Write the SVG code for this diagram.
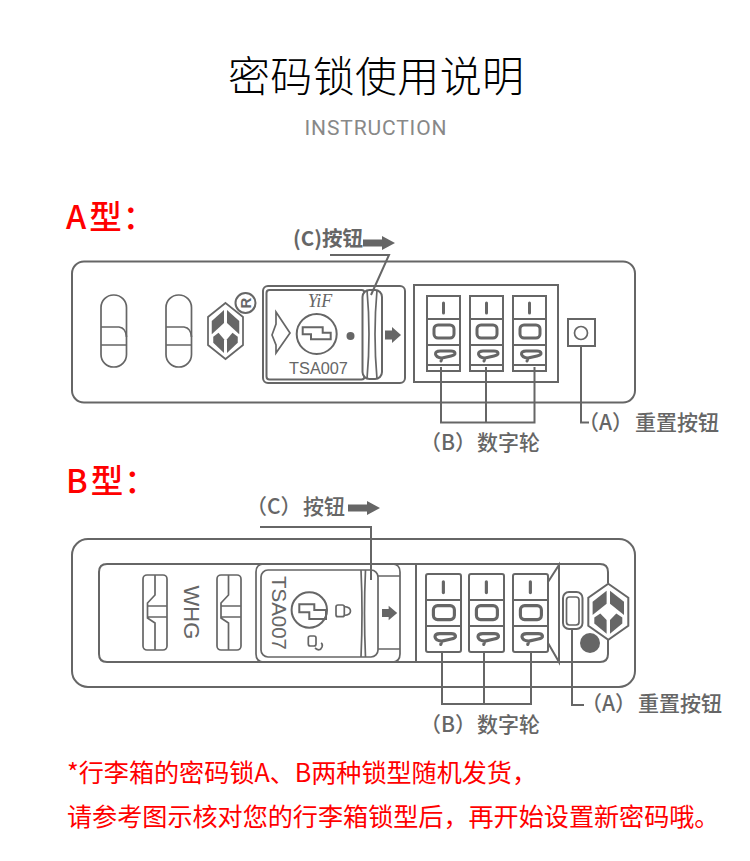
<svg xmlns="http://www.w3.org/2000/svg" width="750" height="861" viewBox="0 0 750 861">
<style>
.l{fill:none;stroke:#666;stroke-width:2}
.t{fill:none;stroke:#666;stroke-width:1.700}
.w{fill:#fff;stroke:#666;stroke-width:2}
.f{fill:#666;stroke:none}
.d{fill:none;stroke:#666;stroke-width:3;stroke-linejoin:round;stroke-linecap:round}
.cn{font-family:"Noto Sans CJK SC","Liberation Sans",sans-serif}
.lab{font-size:21px;font-weight:500;fill:#666;font-family:"Noto Sans CJK SC","Liberation Sans",sans-serif}
.red{fill:#f00;font-size:25.100px;font-family:"Noto Sans CJK SC","Liberation Sans",sans-serif}
.big{fill:#f00;font-size:32.500px;font-weight:500;font-family:"Noto Sans CJK SC","Liberation Sans",sans-serif}
.ar{font-family:"Liberation Sans",Arial,sans-serif;fill:#666}
</style>
<defs>
<g id="digits">
<path class="d" d="M17.500 10V20"/>
<rect class="d" x="8" y="32" width="20" height="13" rx="4"/>
<path class="d" d="M15 68L16 65L25 63Q29.500 62 29 60Q28.500 58 25 58H14Q9.500 58 9.500 61Q10 64.500 16 65"/>
</g>
<g id="logo">
<path class="w" d="M0-28L20-14V14L0 28L-20 14V-14Z"/>
<path class="f" d="M-1.700-21V-8L-15.700 3.300V-10Z"/>
<path class="f" d="M1.700-21V-8L15.700 3.300V-10Z"/>
<path class="f" d="M-14 5.700L-8 1.700L-1.700 8.300V22L-14 11.700Z"/>
<path class="f" d="M14 5.700L8 1.700L1.700 8.300V22L14 11.700Z"/>
</g>
<path id="arr" class="f" d="M0-3.500H19V-7L32 0L19 7V3.500H0Z"/>
<path id="arr2" class="f" d="M0-4.500H7V-8L16 0L7 8V4.500H0Z"/>
</defs>
<rect width="750" height="861" fill="#fff"/>

<g id="title">
<text class="cn" x="376" y="92" font-size="42" font-weight="300" text-anchor="middle" fill="#000" textLength="296">密码锁使用说明</text>
<text x="375.500" y="135" font-family="Roboto,'Liberation Sans',sans-serif" font-size="21" text-anchor="middle" fill="#888" textLength="142">INSTRUCTION</text>
</g>

<g id="heading-a"><text class="big" x="66" y="229">A<tspan dx="3">型</tspan><tspan dx="1">：</tspan></text></g>
<g id="heading-b"><text class="big" x="66" y="493">B<tspan dx="3">型</tspan><tspan dx="1">：</tspan></text></g>

<g id="lock-a">
<rect class="l" x="72" y="261.500" width="563" height="141" rx="12"/>
<g id="a-sliders">
<rect class="t" x="101" y="295" width="25.500" height="72" rx="12.500"/>
<path class="t" d="M101 327H119Q126 328 126.500 337M101 345H126.500"/>
<rect class="t" x="166" y="295" width="25.500" height="72" rx="12.500"/>
<path class="t" d="M166 327H184Q191 328 191.500 337M166 345H191.500"/>
</g>
<g id="a-logo">
<use href="#logo" transform="translate(225.500 331) scale(.875 1)"/>
<circle class="l" cx="245.500" cy="303" r="10"/>
<text class="ar" x="245.500" y="308.500" font-size="15" font-weight="bold" text-anchor="middle" transform="rotate(-90 245.500 303)">R</text>
</g>
<g id="a-panel">
<rect class="l" x="263" y="286" width="142" height="97" rx="5"/>
<rect class="l" x="266.500" y="290" width="98" height="89.500" rx="3"/>
<path class="t" d="M276 312L290 333L276 353V345L272 335L276 324Z"/>
<text x="320" y="307" font-family="'Liberation Serif',serif" font-style="italic" font-size="18" text-anchor="middle" fill="#666">YiF</text>
<circle class="l" cx="316.700" cy="334" r="20"/>
<path class="l" d="M302.700 327.300H322.700V332.700H330.700V339.300H311V334.300H302.700Z"/>
<circle class="f" cx="350.500" cy="336" r="4"/>
<text class="ar" x="318.500" y="374" font-size="16.300" text-anchor="middle">TSA007</text>
<rect class="w" x="362.500" y="290" width="19.500" height="89" rx="7"/>
<path class="t" d="M367 290Q371 334 367 379M377 290Q373 334 377 379"/>
<use href="#arr2" transform="translate(385 335)"/>
</g>
<g id="a-wheels">
<rect class="l" x="414" y="285" width="144" height="97"/>
<g id="a-wheel-1"><rect class="l" x="427" y="296" width="33" height="75"/><path class="l" d="M427 319H460M427 345H460M427 365H460"/><use href="#digits" transform="translate(426 293)"/></g>
<g id="a-wheel-2"><rect class="l" x="470" y="296" width="33" height="75"/><path class="l" d="M470 319H503M470 345H503M470 365H503"/><use href="#digits" transform="translate(469 293)"/></g>
<g id="a-wheel-3"><rect class="l" x="513" y="296" width="33" height="75"/><path class="l" d="M513 319H546M513 345H546M513 365H546"/><use href="#digits" transform="translate(512 293)"/></g>
</g>
<g id="a-reset">
<rect class="l" x="568" y="319" width="27" height="27"/>
<circle class="t" cx="581" cy="333" r="6.500"/>
</g>
</g>

<g id="lock-b">
<rect class="l" x="72" y="539" width="563" height="148" rx="16"/>
<path class="l" d="M608 583V572Q608 564 600 564H107Q99 564 99 572V654Q99 662 107 662H600Q608 662 608 654V640"/>
<g id="b-sliders">
<rect class="t" x="143" y="575" width="24" height="75" rx="4"/>
<path class="t" d="M155 575V595L147.500 603V618L155 623V650M147.500 606H167M147.500 617H167"/>
<rect class="t" x="217" y="575" width="24" height="75" rx="4"/>
<path class="t" d="M228.500 575V595L221 603V618L228.500 623V650M221 606H241M221 617H241"/>
<text class="ar" x="191.500" y="620.500" font-size="22" text-anchor="middle" transform="rotate(90 191.500 612.500)">WHG</text>
</g>
<g id="b-panel">
<path class="t" d="M392 564Q400 564 400 572V654Q400 662 392 662H264Q256 662 256 654V572Q256 564 264 564Z"/>
<path class="t" d="M378 576H400M378 649H400"/>
<rect class="w" x="261" y="570" width="117" height="87" rx="7" style="stroke-width:1.700"/>
<path class="t" d="M361 570Q363 613 361 657M365.500 570Q363.500 613 365.500 657"/>
<text class="ar" x="279" y="620.500" font-size="20.500" text-anchor="middle" transform="rotate(90 279 613)">TSA007</text>
<circle class="l" cx="309.300" cy="610" r="17.700"/>
<path class="l" d="M299.300 604.300H314.300V610H326V619H309.300V612.300H299.300Z"/>
<rect class="t" x="336" y="605" width="8.300" height="11.700" rx="2"/>
<path class="t" d="M344 606.500Q350.500 607 350.500 611Q350.500 615 344 615.500"/>
<rect class="t" x="308.300" y="636" width="7.700" height="10" rx="2"/>
<path class="t" d="M315 648Q320 652 322 647Q323 644 321 643"/>
<use href="#arr2" transform="translate(382 613) scale(.95 .9)"/>
</g>
<path class="l" d="M416 564V662"/>
<g id="b-wheels">
<g id="b-wheel-1"><rect class="l" x="426" y="574" width="35" height="78" rx="2"/><path class="l" d="M426 600H461M426 626H461"/><use href="#digits" transform="translate(425 571) scale(1.050 1.080)"/></g>
<g id="b-wheel-2"><rect class="l" x="469" y="574" width="35" height="78" rx="2"/><path class="l" d="M469 600H504M469 626H504"/><use href="#digits" transform="translate(468 571) scale(1.050 1.080)"/></g>
<g id="b-wheel-3"><rect class="l" x="513" y="574" width="35" height="78" rx="2"/><path class="l" d="M513 600H548M513 626H548"/><use href="#digits" transform="translate(512 571) scale(1.050 1.080)"/></g>
<path class="l" d="M548 582L559 565V662L548 643"/>
</g>
<g id="b-reset">
<rect class="l" x="563" y="592" width="19.500" height="37" rx="6"/>
<rect class="t" x="566.500" y="597" width="12.500" height="28" rx="3"/>
</g>
<g id="b-logo">
<use href="#logo" transform="translate(608.300 611.700)"/>
<circle class="f" cx="590" cy="643" r="10"/>
</g>
</g>

<g id="connectors">
<path class="l" d="M330 255H389L371 295"/>
<path class="l" d="M441 367V422.500H534.500V367M486 367V422.500"/>
<path class="l" d="M581 346V422.500H589"/>
<path class="l" d="M260 527H371V580"/>
<path class="l" d="M442 652V704H531V652M484 652V704"/>
<path class="l" d="M572 629V705H584"/>
</g>

<g id="label-a-c">
<text class="lab" x="293" y="246" style="font-size:20.500px;font-weight:bold">(C)按钮</text>
<use href="#arr" transform="translate(363 243)"/>
</g>
<g id="label-a-b"><text class="lab" x="420" y="450">（B）<tspan x="477">数字轮</tspan></text></g>
<g id="label-a-a"><text class="lab" x="578" y="430">（A）<tspan x="635">重置按钮</tspan></text></g>
<g id="label-b-c">
<text class="lab" x="246" y="514">（C）<tspan x="303">按钮</tspan></text>
<use href="#arr" transform="translate(348 508)"/>
</g>
<g id="label-b-b"><text class="lab" x="420" y="732">（B）<tspan x="477">数字轮</tspan></text></g>
<g id="label-b-a"><text class="lab" x="581" y="711">（A）<tspan x="638">重置按钮</tspan></text></g>

<g id="note">
<text class="red" x="67" y="782">*行李箱的密码锁A、B两种锁型随机发货，</text>
<text class="red" x="67" y="825.500">请参考图示核对您的行李箱锁型后，再开始设置新密码哦。</text>
</g>
</svg>
